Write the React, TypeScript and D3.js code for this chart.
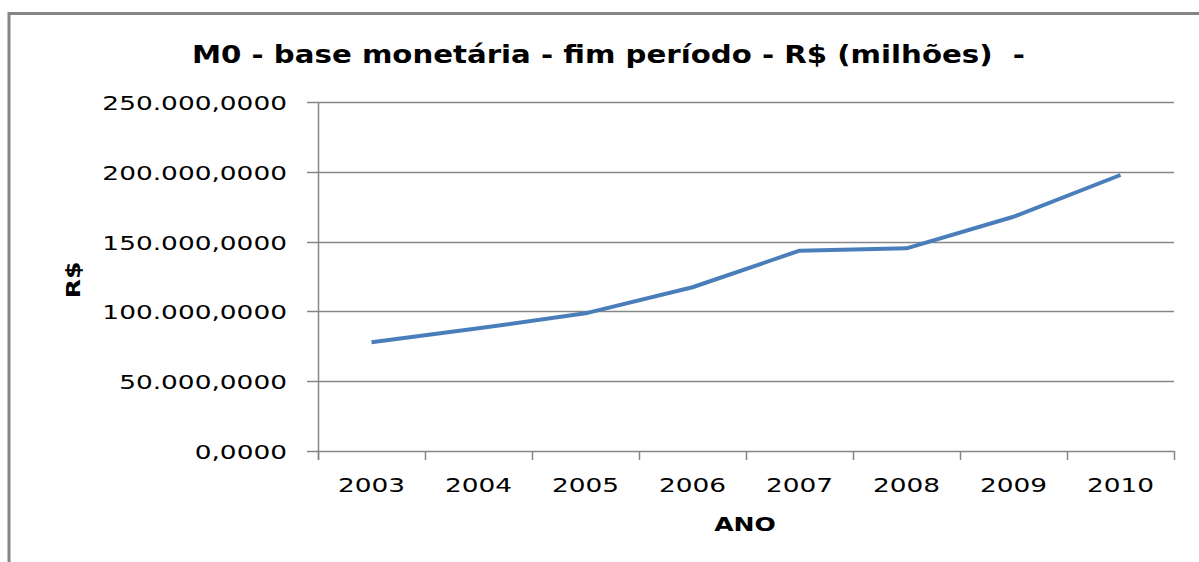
import React from "react";
import * as d3 from "d3";

const years = ["2003", "2004", "2005", "2006", "2007", "2008", "2009", "2010"];
const values = [77900, 87900, 98600, 117300, 143500, 145200, 167800, 197700];
const yTicks = [0, 50000, 100000, 150000, 200000, 250000];
const yTickLabels = ["0,0000", "50.000,0000", "100.000,0000", "150.000,0000", "200.000,0000", "250.000,0000"];
const title = "M0 - base monetária - fim período - R$ (milhões)  -";
const xTitle = "ANO";
const yTitle = "R$";

const W = 1199;
const H = 562;
const SX = 1.32;
const FONT = "'DejaVu Sans', Verdana, sans-serif";
const GRID = "#868686";

export default function App() {
  const x = d3.scaleBand<string>().domain(years).range([318, 1174]);
  const y = d3.scaleLinear().domain([0, 250000]).range([451, 102]);
  const line = d3
    .line<number>()
    .x((_, i) => (x(years[i]) as number) + x.bandwidth() / 2)
    .y((d) => y(d));
  const tickXs = years.map((yr) => x(yr) as number).concat([1174]);

  return (
    <svg
      width={W}
      height={H}
      style={{ position: "absolute", left: 0, top: 0, display: "block", background: "#fff" }}
    >
      <rect x={9} y={13.5} width={1400} height={800} fill="#fff" stroke={GRID} strokeWidth={3} />
      <text
        x={192}
        y={63}
        fontFamily={FONT}
        fontWeight="bold"
        fontSize={25}
        textLength={833}
        lengthAdjust="spacingAndGlyphs"
        fill="#000"
        style={{ whiteSpace: "pre" }}
      >
        {title}
      </text>
      {yTicks.map((t, i) => (
        <g key={t}>
          <line x1={307} x2={1174} y1={Math.round(y(t)) + 0.5} y2={Math.round(y(t)) + 0.5} stroke={GRID} strokeWidth={1.5} />
          <text
            transform={`translate(287,${y(t) + 8}) scale(${SX},1)`}
            textAnchor="end"
            fontFamily={FONT}
            fontSize={20}
            fill="#000"
          >
            {yTickLabels[i]}
          </text>
        </g>
      ))}
      <line x1={318.5} x2={318.5} y1={102} y2={460} stroke={GRID} strokeWidth={1.5} />
      {tickXs.map((tx, i) => (
        <line key={i} x1={Math.round(tx) + 0.5} x2={Math.round(tx) + 0.5} y1={451} y2={460} stroke={GRID} strokeWidth={1.5} />
      ))}
      {years.map((yr) => (
        <text
          key={yr}
          transform={`translate(${(x(yr) as number) + x.bandwidth() / 2},492) scale(${SX},1)`}
          textAnchor="middle"
          fontFamily={FONT}
          fontSize={20}
          fill="#000"
        >
          {yr}
        </text>
      ))}
      <path d={line(values) || ""} fill="none" stroke="#4a7ebb" strokeWidth={4} strokeLinejoin="round" strokeLinecap="butt" />
      <text
        transform={`translate(745,531) scale(${SX},1)`}
        textAnchor="middle"
        fontFamily={FONT}
        fontWeight="bold"
        fontSize={19}
        fill="#000"
      >
        {xTitle}
      </text>
      <text
        transform={`translate(80,280) rotate(-90) scale(${SX},1)`}
        textAnchor="middle"
        fontFamily={FONT}
        fontWeight="bold"
        fontSize={19}
        fill="#000"
      >
        {yTitle}
      </text>
    </svg>
  );
}
